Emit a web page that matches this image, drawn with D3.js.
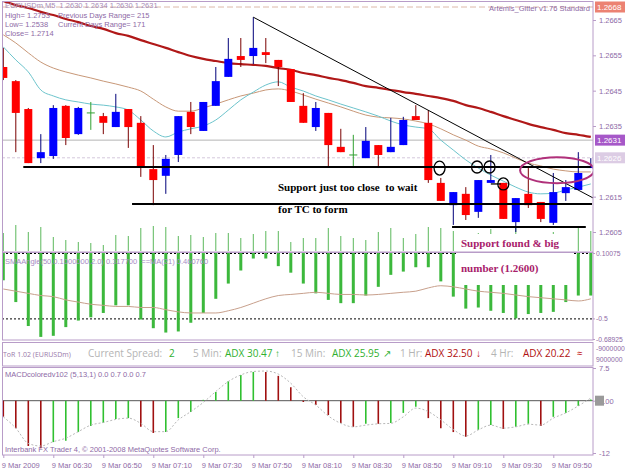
<!DOCTYPE html>
<html>
<head>
<meta charset="utf-8">
<script src="https://cdn.jsdelivr.net/npm/d3@7"></script>
<style>
  body { margin: 0; background: #fff; }
  svg { display: block; }
</style>
</head>
<body>
<svg id="chart"></svg>
<script>
// EURUSDm M5, 48 bars from 06:10
var opens  = [1.26517,1.26477,1.26398,1.26259,1.26265,1.26407,1.26327,1.26387,1.26378,1.26347,1.26398,1.26359,1.26228,1.26209,1.26268,1.26390,1.26336,1.26407,1.26489,1.26548,1.26548,1.26559,1.26537,1.26511,1.26407,1.26347,1.26387,1.26291,1.26268,1.26259,1.26296,1.26276,1.26296,1.26378,1.26359,1.26189,1.26126,1.26158,1.26107,1.26189,1.26189,1.26078,1.26158,1.26135,1.26076,1.26160,1.26169,1.26231];
var highs  = [1.26571,1.26480,1.26401,1.26327,1.26409,1.26409,1.26404,1.26418,1.26387,1.26441,1.26398,1.26378,1.26296,1.26268,1.26378,1.26418,1.26418,1.26517,1.26599,1.26599,1.26658,1.26599,1.26537,1.26511,1.26443,1.26418,1.26387,1.26342,1.26325,1.26347,1.26296,1.26373,1.26376,1.26409,1.26395,1.26203,1.26163,1.26177,1.26197,1.26268,1.26189,1.26146,1.26231,1.26135,1.26217,1.26197,1.26276,1.26259];
var lows   = [1.26480,1.26276,1.26245,1.26245,1.26257,1.26296,1.26325,1.26339,1.26327,1.26347,1.26288,1.26206,1.26126,1.26158,1.26248,1.26327,1.26336,1.26407,1.26489,1.26517,1.26525,1.26528,1.26463,1.26418,1.26359,1.26336,1.26234,1.26276,1.26237,1.26259,1.26231,1.26276,1.26296,1.26367,1.26189,1.26138,1.26070,1.26084,1.26090,1.26189,1.26087,1.26050,1.26118,1.26078,1.26070,1.26138,1.26169,1.26231];
var closes = [1.26486,1.26387,1.26245,1.26276,1.26401,1.26316,1.26401,1.26387,1.26359,1.26390,1.26347,1.26234,1.26197,1.26257,1.26378,1.26347,1.26418,1.26477,1.26540,1.26537,1.26571,1.26551,1.26517,1.26418,1.26359,1.26401,1.26296,1.26276,1.26268,1.26308,1.26268,1.26291,1.26367,1.26367,1.26197,1.26138,1.26163,1.26098,1.26197,1.26197,1.26087,1.26146,1.26126,1.26087,1.26163,1.26177,1.26217,1.26237];

// moving averages on the price window
var maSlow = [1.26704,1.26692,1.26684,1.26673,1.26664,1.26653,1.26644,1.26633,1.26625,1.26613,1.26605,1.26593,1.26582,1.26571,1.26559,1.26548,1.26540,1.26534,1.26528,1.26525,1.26523,1.26520,1.26514,1.26509,1.26500,1.26494,1.26486,1.26480,1.26472,1.26463,1.26458,1.26452,1.26446,1.26441,1.26435,1.26429,1.26421,1.26409,1.26401,1.26390,1.26378,1.26367,1.26356,1.26347,1.26339,1.26330,1.26325,1.26319];
var maMid  = [1.26608,1.26585,1.26557,1.26531,1.26514,1.26503,1.26494,1.26486,1.26477,1.26469,1.26460,1.26449,1.26426,1.26404,1.26392,1.26392,1.26401,1.26412,1.26424,1.26435,1.26443,1.26452,1.26455,1.26449,1.26438,1.26426,1.26415,1.26404,1.26392,1.26381,1.26375,1.26373,1.26370,1.26364,1.26356,1.26342,1.26325,1.26310,1.26293,1.26285,1.26274,1.26259,1.26245,1.26237,1.26228,1.26223,1.26220,1.26220];
var maFast = [1.26574,1.26537,1.26503,1.26452,1.26435,1.26424,1.26418,1.26412,1.26409,1.26404,1.26395,1.26367,1.26336,1.26319,1.26333,1.26342,1.26350,1.26367,1.26395,1.26424,1.26446,1.26466,1.26475,1.26460,1.26449,1.26435,1.26424,1.26412,1.26401,1.26390,1.26378,1.26364,1.26353,1.26347,1.26342,1.26310,1.26282,1.26254,1.26231,1.26211,1.26194,1.26177,1.26163,1.26158,1.26160,1.26169,1.26177,1.26186];
var volumes = [18,26,19,24,14,11,9,8,6,16,15,23,25,24,15,16,14,18,18,13,17,20,20,9,13,13,23,15,13,11,19,23,13,17,24,23,20,15,18,22,14,25,17,12,19,16,24,20];

// SMAAngle subwindow
var angle   = [-0.15,-0.35,-0.57,-0.67,-0.66,-0.58,-0.52,-0.49,-0.45,-0.38,-0.38,-0.51,-0.59,-0.63,-0.62,-0.54,-0.45,-0.32,-0.18,-0.06,0.05,0.05,-0.02,-0.08,-0.18,-0.27,-0.33,-0.36,-0.36,-0.29,-0.21,-0.10,-0.07,-0.03,-0.03,-0.16,-0.30,-0.41,-0.40,-0.43,-0.45,-0.50,-0.46,-0.45,-0.44,-0.35,-0.29,-0.29];
var angleMA = [-0.23,-0.25,-0.27,-0.29,-0.30,-0.33,-0.35,-0.37,-0.38,-0.39,-0.39,-0.40,-0.40,-0.42,-0.44,-0.45,-0.45,-0.45,-0.43,-0.40,-0.36,-0.32,-0.29,-0.28,-0.27,-0.26,-0.27,-0.28,-0.28,-0.285,-0.28,-0.27,-0.26,-0.25,-0.22,-0.20,-0.21,-0.23,-0.25,-0.26,-0.27,-0.285,-0.30,-0.31,-0.32,-0.33,-0.34,-0.32];

// MACD subwindow
var macd   = [-3.7,-6.3,-10.4,-10.9,-9.5,-9.2,-7.2,-5.8,-5.1,-4.2,-4.0,-6.0,-7.4,-7.2,-4.0,-2.6,0.2,2.0,4.5,5.9,6.6,6.6,5.7,3.1,-0.3,-1.0,-3.3,-5.1,-6.0,-5.3,-5.3,-5.1,-2.8,-1.4,-4.0,-6.3,-7.2,-8.3,-6.7,-5.6,-6.5,-6.0,-5.3,-5.8,-3.7,-2.8,-1.2,0.3];
var signal = [-3.7,-6.3,-9.8,-10.4,-9.4,-8.6,-7.1,-5.6,-5.0,-4.3,-4.0,-5.2,-7.1,-7.1,-4.4,-2.5,-0.4,2.1,4.4,5.9,6.7,6.8,6.1,4.0,0.9,-1.0,-3.5,-5.2,-6.0,-5.6,-5.3,-5.2,-3.7,-1.7,-2.5,-4.4,-6.6,-8.1,-6.7,-5.6,-6.3,-6.0,-5.4,-5.6,-4.0,-2.8,-1.2,0.6];

// axis ticks
var priceTicks = [1.2665, 1.2655, 1.2645, 1.2635, 1.2615, 1.2605];
var angleTicks = [0.10075, -0.5, -0.68925];
var angleTickLabels = ["0.10075", "-0.5", "-0.68925"];
var macdTicks = [7.5, 0, -12];
var macdTickLabels = ["7.5", "0.00", "-12"];
var timeTickBars = [0, 4, 8, 12, 16, 20, 24, 28, 32, 36, 40, 44];
var timeTickLabels = ["9 Mar 2009","9 Mar 06:30","9 Mar 06:50","9 Mar 07:10","9 Mar 07:30","9 Mar 07:50","9 Mar 08:10","9 Mar 08:30","9 Mar 08:50","9 Mar 09:10","9 Mar 09:30","9 Mar 09:50"];

// hand drawn objects (bar index, price)
var supportLines = [[1.6, 47.0, 1.26234], [10.3, 47.1, 1.26129], [35.9, 46.6, 1.26064]];
var trendLine = [[20, 1.26658], [47.2, 1.26146]];
var touchCircles = [[34.9, 1.26231], [37.9, 1.26234], [38.9, 1.26234], [40.0, 1.26186]];

var W = 625, H = 469;
var purple = "#8e6aa6";
var frame = "#b89cc8";

var svg = d3.select("#chart").attr("width", W).attr("height", H);
svg.append("rect").attr("width", W).attr("height", H).attr("fill", "#fff");

var x = d3.scaleLinear().domain([0, 47]).range([3.3, 590.8]);
var y = d3.scaleLinear().domain([1.2605, 1.2665]).range([232, 20]);
var yVol = d3.scaleLinear().domain([0, 40]).range([251, 211]);
var yAng = d3.scaleLinear().domain([-0.68925, 0.10075]).range([339, 253]);
var yMacd = d3.scaleLinear().domain([-12, 7.5]).range([453, 368]);

var defs = svg.append("defs");
defs.append("clipPath").attr("id", "cp").append("rect").attr("x", 2).attr("y", 1).attr("width", 591).attr("height", 251);
defs.append("clipPath").attr("id", "ci").append("rect").attr("x", 2).attr("y", 253).attr("width", 591).attr("height", 87);
defs.append("clipPath").attr("id", "cm").append("rect").attr("x", 2).attr("y", 367).attr("width", 591).attr("height", 88);

// ===== price window =====
var price = svg.append("g").attr("clip-path", "url(#cp)");

price.append("line").attr("x1", 2).attr("x2", 593).attr("y1", 7).attr("y2", 7)
  .attr("stroke", "#dcb8a8").attr("stroke-dasharray", "6,3");
price.append("line").attr("x1", 2).attr("x2", 593).attr("y1", y(1.2631)).attr("y2", y(1.2631))
  .attr("stroke", "#b4b4b4");
price.append("line").attr("x1", 2).attr("x2", 593).attr("y1", y(1.2626)).attr("y2", y(1.2626))
  .attr("stroke", "#d4c8dc").attr("stroke-dasharray", "3,2");

// volume
price.selectAll(".vol").data(volumes).enter().append("line")
  .attr("x1", (d, i) => x(i)).attr("x2", (d, i) => x(i))
  .attr("y1", yVol(0)).attr("y2", d => yVol(d))
  .attr("stroke", "#5cb85c").attr("stroke-width", 1);

function maLine(arr, color, w) {
  price.append("path").datum(arr)
    .attr("d", d3.line().x((d, i) => x(i)).y(d => y(d)).curve(d3.curveMonotoneX))
    .attr("fill", "none").attr("stroke", color).attr("stroke-width", w);
}
maLine(maMid, "#c89878", 1);
maLine(maFast, "#6cc4cc", 1);
maLine(maSlow, "#b01818", 2.2);

// candles
var bars = d3.range(opens.length).map(i => ({i: i, o: opens[i], h: highs[i], l: lows[i], c: closes[i]}));
var cg = price.selectAll(".candle").data(bars).enter().append("g");
cg.append("line")
  .attr("x1", d => x(d.i)).attr("x2", d => x(d.i))
  .attr("y1", d => y(d.h)).attr("y2", d => y(d.l))
  .attr("stroke", d => d.c > d.o ? "#00007a" : d.c < d.o ? "#7a0000" : "#30a030");
cg.filter(d => d.c !== d.o).append("rect")
  .attr("x", d => x(d.i) - 4).attr("width", 8)
  .attr("y", d => y(Math.max(d.o, d.c)))
  .attr("height", d => Math.max(1, Math.abs(y(d.o) - y(d.c))))
  .attr("fill", d => d.c > d.o ? "#0000ff" : "#ff0000");
cg.filter(d => d.c === d.o).append("line")
  .attr("x1", d => x(d.i) - 4).attr("x2", d => x(d.i) + 4)
  .attr("y1", d => y(d.o)).attr("y2", d => y(d.o))
  .attr("stroke", "#30a030");

// drawn objects
price.selectAll(".sup").data(supportLines).enter().append("line")
  .attr("x1", d => x(d[0])).attr("x2", d => x(d[1]))
  .attr("y1", d => y(d[2])).attr("y2", d => y(d[2]))
  .attr("stroke", "#000").attr("stroke-width", 2);
price.append("line")
  .attr("x1", x(trendLine[0][0])).attr("y1", y(trendLine[0][1]))
  .attr("x2", x(trendLine[1][0])).attr("y2", y(trendLine[1][1]))
  .attr("stroke", "#000").attr("stroke-width", 1);
price.selectAll(".circ").data(touchCircles).enter().append("ellipse")
  .attr("cx", d => x(d[0])).attr("cy", d => y(d[1]))
  .attr("rx", 5.5).attr("ry", (d, i) => i === 0 ? 7 : 6)
  .attr("fill", "none").attr("stroke", "#000").attr("stroke-width", 1.3);
price.append("line")
  .attr("x1", x(39.0)).attr("x2", x(39.8)).attr("y1", y(1.26186)).attr("y2", y(1.26186))
  .attr("stroke", "#000").attr("stroke-width", 1.3);
price.append("ellipse")
  .attr("cx", x(44.3)).attr("cy", y(1.26225)).attr("rx", 37).attr("ry", 13)
  .attr("fill", "none").attr("stroke", "#b0307a").attr("stroke-width", 2);

// annotations
var serif = "'Liberation Serif','Times New Roman',serif";
price.append("text").attr("x", 278).attr("y", 191).text("Support just too close  to wait")
  .attr("font-family", serif).attr("font-weight", "bold").attr("font-size", 11).attr("fill", "#000")
  .style("white-space", "pre");
price.append("text").attr("x", 278).attr("y", 213).text("for TC to form")
  .attr("font-family", serif).attr("font-weight", "bold").attr("font-size", 11).attr("fill", "#000");

// header
var hdr = svg.append("g").attr("font-family", "'Liberation Sans',Arial,sans-serif")
  .attr("font-size", 7.5).attr("fill", purple);
hdr.append("text").attr("x", 5).attr("y", 8).text("EURUSDm,M5  1.2630 1.2634 1.2630 1.2631").style("white-space", "pre").attr("fill", "#a88cb8");
hdr.append("text").attr("x", 5).attr("y", 18).text("High= 1.2753");
hdr.append("text").attr("x", 58).attr("y", 18).text("Previous Days Range= 215");
hdr.append("text").attr("x", 5).attr("y", 27).text("Low= 1.2538");
hdr.append("text").attr("x", 58).attr("y", 27).text("Current Days Range= 171");
hdr.append("text").attr("x", 5).attr("y", 36).text("Close= 1.2714");
hdr.append("text").attr("x", 590).attr("y", 11).attr("text-anchor", "end").text("Artemis_Gitter v1.76 Standard");

// ===== SMAAngle window =====
var ind = svg.append("g").attr("clip-path", "url(#ci)");
ind.selectAll(".lvl").data([0.10075, -0.5]).enter().append("line")
  .attr("x1", 2).attr("x2", 593).attr("y1", d => yAng(d) + 0.5).attr("y2", d => yAng(d) + 0.5)
  .attr("stroke", "#000").attr("stroke-dasharray", "2,2");
ind.selectAll(".ab").data(angle).enter().append("rect")
  .attr("x", (d, i) => x(i) - 1.5).attr("width", 3)
  .attr("y", yAng(0.10075)).attr("height", d => yAng(d) - yAng(0.10075))
  .attr("fill", "#3cb83c");
ind.append("path").datum(angleMA)
  .attr("d", d3.line().x((d, i) => x(i)).y(d => yAng(d)).curve(d3.curveMonotoneX))
  .attr("fill", "none").attr("stroke", "#c8a08c").attr("stroke-width", 1);
ind.append("text").attr("x", 5).attr("y", 264)
  .attr("font-family", "'Liberation Sans',Arial,sans-serif").attr("font-size", 7.5).attr("fill", "#a88cc4")
  .text("SMAAngle(50,0.1000000,2.0) 0.317700  ==MA(21) 0.460760").style("white-space", "pre");

// white note box over both windows
svg.append("rect").attr("x", 456).attr("y", 234).attr("width", 118).attr("height", 51).attr("fill", "#fff");
svg.append("text").attr("x", 461).attr("y", 247).text("Support found & big")
  .attr("font-family", serif).attr("font-weight", "bold").attr("font-size", 11).attr("fill", "#a8206a");
svg.append("text").attr("x", 461).attr("y", 272).text("number (1.2600)")
  .attr("font-family", serif).attr("font-weight", "bold").attr("font-size", 11).attr("fill", "#a8206a");

// ===== ToR window =====
var tor = svg.append("g").attr("font-family", "'Open Sans','Noto Sans',sans-serif");
var torItems = [
  {x: 3,   t: "ToR 1.02 (EURUSDm)", c: "#9a7aaa", s: 7},
  {x: 88,  t: "Current Spread:", c: "#b4b4b4", s: 10},
  {x: 169, t: "2", c: "#30b030", s: 10},
  {x: 193, t: "5 Min:", c: "#b4b4b4", s: 10},
  {x: 225, t: "ADX 30.47", c: "#30b030", s: 10},
  {x: 275, t: "\u2191", c: "#30b030", s: 10},
  {x: 291, t: "15 Min:", c: "#b4b4b4", s: 10},
  {x: 332, t: "ADX 25.95", c: "#30b030", s: 10},
  {x: 383, t: "\u2197", c: "#30b030", s: 10},
  {x: 400, t: "1 Hr:", c: "#b4b4b4", s: 10},
  {x: 425, t: "ADX 32.50", c: "#b01010", s: 10},
  {x: 476, t: "\u2193", c: "#c01010", s: 10},
  {x: 491, t: "4 Hr:", c: "#b4b4b4", s: 10},
  {x: 523, t: "ADX 20.22", c: "#b01010", s: 10},
  {x: 577, t: "\u2248", c: "#c01010", s: 10}
];
tor.selectAll("text").data(torItems).enter().append("text")
  .attr("x", d => d.x).attr("y", 357).attr("font-size", d => d.s).attr("fill", d => d.c).text(d => d.t);

// ===== MACD window =====
var mw = svg.append("g").attr("clip-path", "url(#cm)");
mw.append("line").attr("x1", 2).attr("x2", 593).attr("y1", yMacd(0)).attr("y2", yMacd(0))
  .attr("stroke", "#555").attr("stroke-width", 1);
mw.selectAll(".mb").data(macd).enter().append("line")
  .attr("x1", (d, i) => x(i)).attr("x2", (d, i) => x(i))
  .attr("y1", yMacd(0)).attr("y2", d => yMacd(d))
  .attr("stroke", (d, i) => i > 0 && d > macd[i - 1] ? "#30c030" : "#a01010")
  .attr("stroke-width", 1.6);
mw.append("path").datum(signal)
  .attr("d", d3.line().x((d, i) => x(i)).y(d => yMacd(d)).curve(d3.curveMonotoneX))
  .attr("fill", "none").attr("stroke", "#b8b8b8").attr("stroke-dasharray", "2,2");
mw.append("text").attr("x", 5).attr("y", 377).attr("font-family", "'Liberation Sans',Arial,sans-serif")
  .attr("font-size", 7.5).attr("fill", purple).text("MACDcoloredv102 (5,13,1) 0.0 0.7 0.0 0.7");
mw.append("text").attr("x", 5).attr("y", 452).attr("font-family", "'Liberation Sans',Arial,sans-serif")
  .attr("font-size", 7.5).attr("fill", purple).text("Interbank FX Trader 4, \u00a9 2001-2008 MetaQuotes Software Corp.");

// ===== frames =====
var fr = svg.append("g").attr("fill", "none").attr("stroke", frame);
fr.append("rect").attr("x", 2.5).attr("y", 1.5).attr("width", 590.5).attr("height", 250.5);
fr.append("rect").attr("x", 2.5).attr("y", 252.5).attr("width", 590.5).attr("height", 87.5);
fr.append("rect").attr("x", 2.5).attr("y", 342.5).attr("width", 590.5).attr("height", 23.5);
fr.append("rect").attr("x", 2.5).attr("y", 367.5).attr("width", 590.5).attr("height", 87.5);

// ===== axes =====
function styleAxis(g, fs) {
  g.select(".domain").remove();
  g.selectAll("line").attr("stroke", frame);
  g.selectAll("text").attr("fill", purple).attr("font-size", fs || 7.5)
    .attr("font-family", "'Liberation Sans',Arial,sans-serif");
}
svg.append("g").attr("transform", "translate(593,0)")
  .call(d3.axisRight(y).tickValues(priceTicks).tickSize(3).tickFormat(d3.format(".4f")))
  .call(styleAxis);
svg.append("g").attr("transform", "translate(593,0)")
  .call(d3.axisRight(yAng).tickValues(angleTicks).tickSize(2).tickPadding(1).tickFormat((d, i) => angleTickLabels[i]))
  .call(styleAxis, 6.8);
svg.append("g").attr("transform", "translate(593,0)")
  .call(d3.axisRight(yMacd).tickValues(macdTicks).tickSize(3).tickFormat((d, i) => macdTickLabels[i]))
  .call(styleAxis);
svg.append("g").attr("transform", "translate(0,455)")
  .call(d3.axisBottom(x).tickValues(timeTickBars).tickSize(3).tickFormat((d, i) => timeTickLabels[i]))
  .call(styleAxis)
  .selectAll("text").attr("text-anchor", "start").attr("dx", -2).attr("dy", "0.9em");

// price markers on the right
var markers = [
  {p: 1.2668, t: "1.2668", bg: "#ec8272", fg: "#fff", yy: 7},
  {p: 1.2631, t: "1.2631", bg: "#a658c8", fg: "#fff", yy: y(1.2631)},
  {p: 1.2626, t: "1.2626", bg: "#dccce4", fg: "#fff", yy: y(1.2626)}
];
var mk = svg.selectAll(".mk").data(markers).enter().append("g");
mk.append("rect").attr("x", 595).attr("y", d => d.yy - 5.5).attr("width", 30).attr("height", 11).attr("fill", d => d.bg);
mk.append("text").attr("x", 597).attr("y", d => d.yy + 3).text(d => d.t).attr("fill", d => d.fg)
  .attr("font-size", 8).attr("font-family", "'Liberation Sans',Arial,sans-serif");

// current MACD value box
svg.append("rect").attr("x", 595).attr("y", yMacd(0) - 5).attr("width", 9).attr("height", 10).attr("fill", "#9a9a9a");

// ToR axis labels
svg.append("text").attr("x", 596).attr("y", 351).attr("font-size", 6.8).attr("fill", purple)
  .attr("font-family", "'Liberation Sans',Arial,sans-serif").text("-9000000");
svg.append("text").attr("x", 596).attr("y", 362).attr("font-size", 6.8).attr("fill", purple)
  .attr("font-family", "'Liberation Sans',Arial,sans-serif").text("9000000");
</script>
</body>
</html>
